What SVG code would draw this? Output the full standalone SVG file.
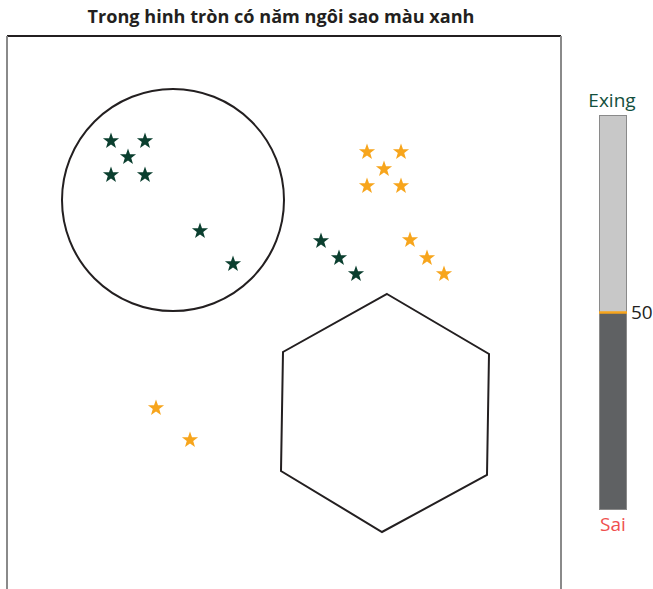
<svg xmlns="http://www.w3.org/2000/svg" xmlns:xlink="http://www.w3.org/1999/xlink" width="653" height="589" viewBox="0 0 653 589">
  <style>
    .title { font-family: "Open Sans", "Noto Sans", sans-serif; font-weight: bold; font-size: 17px; fill: #231f20; }
    .lbl { font-family: "Open Sans", "Noto Sans", sans-serif; font-size: 19px; }
    .shape { fill: none; stroke: #231f20; stroke-width: 2; }
    .g { fill: #0b3f2f; }
    .o { fill: #f7a51c; }
  </style>
  <defs>
    <polygon id="star" points="0,-8.5 2,-2.75 8.08,-2.63 3.23,1.05 4.99,6.88 0,3.4 -4.99,6.88 -3.23,1.05 -8.08,-2.63 -2,-2.75"/>
  </defs>
  <rect width="653" height="589" fill="#ffffff"/>

  <text class="title" x="281" y="23" text-anchor="middle" textLength="387" lengthAdjust="spacingAndGlyphs">Trong hinh tròn có năm ngôi sao màu xanh</text>

  <!-- frame -->
  <g id="frame">
    <line x1="7" y1="36" x2="561" y2="36" stroke="#231f20" stroke-width="2"/>
    <line x1="7" y1="36" x2="7" y2="589" stroke="#8a8a8a" stroke-width="2"/>
    <line x1="561" y1="36" x2="561" y2="589" stroke="#8a8a8a" stroke-width="2"/>
  </g>

  <g id="circle">
    <circle class="shape" cx="173" cy="200" r="111"/>
  </g>

  <g id="hexagon">
    <polygon class="shape" points="387,294 489,354 487,475 382,532 281,471 283,352"/>
  </g>

  <g id="green-stars" class="g">
    <use xlink:href="#star" x="111" y="141"/>
    <use xlink:href="#star" x="145" y="141"/>
    <use xlink:href="#star" x="128" y="157"/>
    <use xlink:href="#star" x="111" y="175"/>
    <use xlink:href="#star" x="145" y="175"/>
    <use xlink:href="#star" x="200" y="231"/>
    <use xlink:href="#star" x="233" y="264"/>
    <use xlink:href="#star" x="321" y="241"/>
    <use xlink:href="#star" x="339" y="258"/>
    <use xlink:href="#star" x="356" y="274"/>
  </g>

  <g id="orange-stars" class="o">
    <use xlink:href="#star" x="367" y="152"/>
    <use xlink:href="#star" x="401" y="152"/>
    <use xlink:href="#star" x="384" y="169"/>
    <use xlink:href="#star" x="367" y="186"/>
    <use xlink:href="#star" x="401" y="186"/>
    <use xlink:href="#star" x="410" y="240"/>
    <use xlink:href="#star" x="427" y="258"/>
    <use xlink:href="#star" x="444" y="274"/>
    <use xlink:href="#star" x="156" y="408"/>
    <use xlink:href="#star" x="190" y="440"/>
  </g>

  <!-- gauge -->
  <g id="gauge">
    <rect x="599.5" y="115.5" width="27" height="197" fill="#c8c8c8" stroke="#8a8a8a" stroke-width="1"/>
    <rect x="599.5" y="312.5" width="27" height="197" fill="#5f6163" stroke="#8a8a8a" stroke-width="1"/>
    <line x1="599" y1="312.5" x2="627" y2="312.5" stroke="#f7a51c" stroke-width="2.5"/>
    <text class="lbl" x="612" y="107" text-anchor="middle" fill="#134f3d">Exing</text>
    <text class="lbl" x="631" y="319" font-size="16" fill="#231f20">50</text>
    <text class="lbl" x="613" y="531" text-anchor="middle" fill="#ef4f4f">Sai</text>
  </g>
</svg>
